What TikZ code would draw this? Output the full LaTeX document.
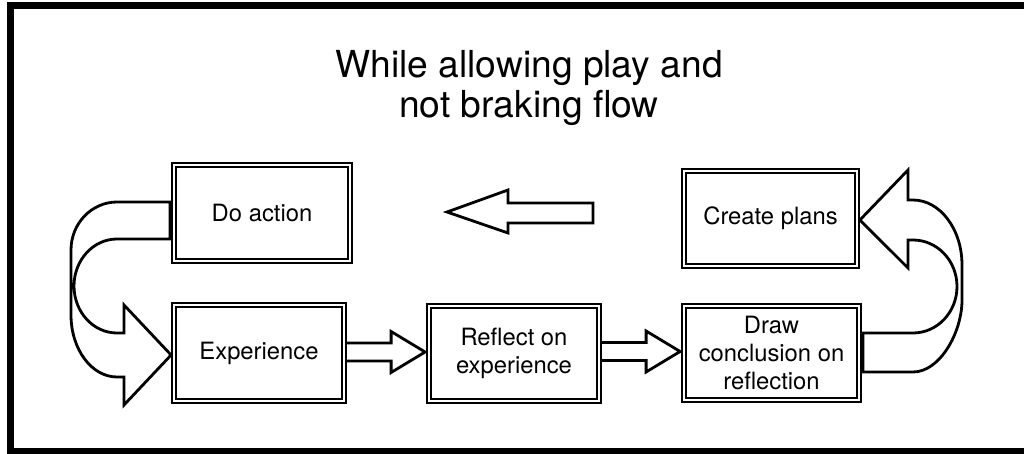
\documentclass[tikz,border=0pt]{standalone}
\usepackage{fontspec}
\setmainfont{TeX Gyre Heros}
\usetikzlibrary{calc,backgrounds}

% straight block arrow from the east side of #1 to the west side of #2
\newcommand\blockright[2]{%
  \draw[blockarrow] let \p1=(#1.east), \p2=(#2.west) in
    (\x1,\y2+10.5pt) -- (\x2-37pt,\y2+10.5pt) -- (\x2-37pt,\y2+22pt)
    -- (\x2-3pt,\y2+1.5pt) -- (\x2-37pt,\y2-19pt) -- (\x2-37pt,\y2-7.5pt)
    -- (\x1,\y2-7.5pt) -- cycle;}

\begin{document}
\begin{tikzpicture}[x=1pt,y=-1pt,
  box/.style={draw, double, line width=2pt, double distance=2.2pt, fill=white,
    inner sep=0pt, align=center, font=\fontsize{23.8}{28}\selectfont},
  blockarrow/.style={draw, line width=2.8pt, fill=white, line join=miter},
  frameline/.style={draw, line width=7.3pt},
  title/.style={font=\fontsize{37.2}{39.5}\selectfont, align=center}]

\useasboundingbox (0,0) rectangle (1024,454);
\clip (0,0) rectangle (1024,454);

% outer frame (its right side runs past the page edge)
\path[frameline] (10.5,5.3) rectangle (1040,451.5);

% heading (anchored on the baseline of its last line)
\node[title, anchor=base] (title) at (529,117.5) {While allowing play and\\not braking flow};

% process boxes
\node[box, minimum width=175.8pt, minimum height=95.8pt] (do)  at (262,213)   {Do action};
\node[box, minimum width=169.8pt, minimum height=95.8pt] (exp) at (259,353)   {Experience};
\node[box, minimum width=169.8pt, minimum height=95pt]   (ref) at (514,353.5) {Reflect on\\experience};
\node[box, minimum width=174.8pt, minimum height=93.8pt] (dc)  at (771.5,353) {Draw\\conclusion on\\reflection};
\node[box, minimum width=172.8pt, minimum height=94.8pt] (cp)  at (770.5,218.5) {Create plans};

\begin{scope}[on background layer]
  % straight block arrows along the bottom row
  \blockright{exp}{ref}
  \blockright{ref}{dc}

  % U-turn from "Do action" down into "Experience"
  \draw[blockarrow, fill=none]
    ([xshift=-3pt,yshift=11pt]do.west) -- (117,202)
    .. controls (91.6,202) and (71,223.5) .. (71,250) -- (71,315)
    .. controls (71,349.2) and (91.6,377) .. (117,377) -- (124,377) -- (124,405)
    -- ([xshift=-2pt,yshift=-2pt]exp.west) -- (124,305) -- (124,333) -- (117,333)
    .. controls (93.3,333) and (74,312) .. (74,286)
    .. controls (74,260) and (93.3,239) .. (117,239)
    -- ([xshift=-3pt,yshift=-26pt]do.west) -- cycle;

  % U-turn from "Draw conclusion" up into "Create plans"
  \draw[blockarrow, fill=none]
    ([xshift=3pt,yshift=20pt]dc.east) -- (913,333)
    .. controls (937.3,333) and (957,312.2) .. (957,286.5)
    .. controls (957,260.8) and (937.3,240) .. (913,240)
    -- (908,240) -- (908,268) -- ([xshift=2pt,yshift=-1.5pt]cp.east)
    -- (908,170) -- (908,200) -- (913,200)
    .. controls (940,200) and (962,229.1) .. (962,265) -- (962,300)
    .. controls (962,332.3) and (940,372) .. (913,372)
    -- ([xshift=3pt,yshift=-19pt]dc.east) -- cycle;
\end{scope}

% free-standing arrow pointing left, between the top boxes
\draw[blockarrow] (593,203) -- (508,203) -- (508,190) -- (447,212)
  -- (508,233) -- (508,223) -- (593,223) -- cycle;

\end{tikzpicture}
\end{document}
